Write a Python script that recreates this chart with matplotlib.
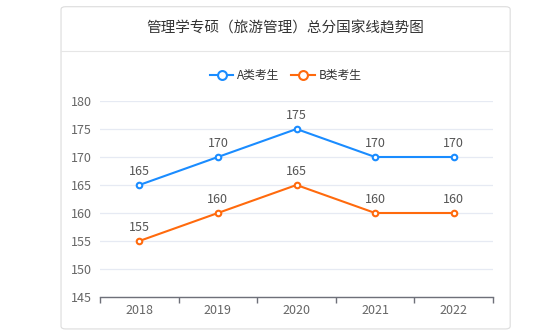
import matplotlib.pyplot as plt
from matplotlib.patches import FancyBboxPatch
from matplotlib.lines import Line2D

plt.rcParams['font.family'] = ['Noto Sans CJK SC', 'DejaVu Sans']

years = ['2018', '2019', '2020', '2021', '2022']
score_a = [165, 170, 175, 170, 170]
score_b = [155, 160, 165, 160, 160]
series_names = ['A类考生', 'B类考生']
title = '管理学专硕（旅游管理）总分国家线趋势图'

blue = '#1a8cff'
orange = '#ff6a0d'

fig = plt.figure(figsize=(5.6, 3.36), dpi=100)

# card background with header strip, kept behind the axes
card = FancyBboxPatch((0.109, 0.021), 0.802, 0.959,
                      boxstyle='round,pad=0,rounding_size=0.008',
                      transform=fig.transFigure, facecolor='white',
                      edgecolor='#dcdcdc', linewidth=0.8, zorder=-10)
fig.patches.append(card)
fig.add_artist(Line2D([0.109, 0.911], [0.848, 0.848], transform=fig.transFigure,
                      color='#e6e6e6', linewidth=0.8, zorder=-9))
fig.text(0.51, 0.915, title, ha='center', va='center', fontsize=10.5, color='#333333')

ax = fig.add_axes([0.1786, 0.1161, 0.7018, 0.5833])
ax.set_facecolor('none')
x = list(range(len(years)))
ax.plot(x, score_a, color=blue, linewidth=1.5, marker='o', markersize=4,
        markerfacecolor='white', markeredgewidth=1.5, label=series_names[0], zorder=3)
ax.plot(x, score_b, color=orange, linewidth=1.5, marker='o', markersize=4,
        markerfacecolor='white', markeredgewidth=1.5, label=series_names[1], zorder=3)

for xi, v in zip(x, score_a):
    ax.annotate(str(v), (xi, v), xytext=(0, 5), textcoords='offset points',
                ha='center', va='bottom', fontsize=9, color='#555555')
for xi, v in zip(x, score_b):
    ax.annotate(str(v), (xi, v), xytext=(0, 5), textcoords='offset points',
                ha='center', va='bottom', fontsize=9, color='#555555')

ax.set_xlim(-0.5, 4.5)
ax.set_ylim(145, 180)
ax.set_yticks(range(145, 181, 5))
ax.set_xticks(x)
ax.set_xticklabels(years)
ax.set_xticks([i - 0.5 for i in range(len(years) + 1)], minor=True)
ax.tick_params(axis='x', which='major', length=0, pad=5, labelsize=9, labelcolor='#666666')
ax.tick_params(axis='x', which='minor', length=4, color='#6e7079', width=1)
ax.tick_params(axis='y', length=0, pad=6, labelsize=9, labelcolor='#666666')
ax.grid(axis='y', color='#e6eaf3', linewidth=0.9)
ax.set_axisbelow(True)
for side in ['top', 'right', 'left']:
    ax.spines[side].set_visible(False)
ax.spines['bottom'].set_color('#6e7079')
ax.spines['bottom'].set_linewidth(1)

fig.legend(loc='center', bbox_to_anchor=(0.51, 0.775), ncol=2, frameon=False,
           fontsize=8.5, handlelength=2.0, handletextpad=0.3, columnspacing=1.0,
           markerscale=1.6, labelcolor='#333333')

fig.savefig('out.png', dpi=100)
